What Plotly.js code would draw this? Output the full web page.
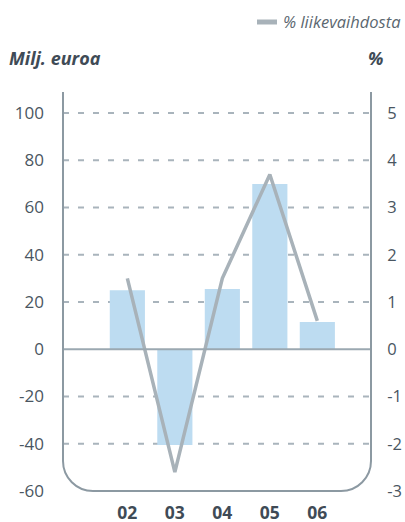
<!DOCTYPE html>
<html>
<head>
<meta charset="utf-8">
<script src="https://cdn.plot.ly/plotly-3.0.1.min.js"></script>
<style>
  html, body { margin: 0; padding: 0; background: #ffffff; }
  #chart { width: 405px; height: 522px; }
</style>
</head>
<body>
<div id="chart"></div>
<script>
// ---- data ----
const years = ["02", "03", "04", "05", "06"];
const profitMeur = [25, -40.5, 25.5, 70, 11.5];      // bars, left axis (Milj. euroa)
const pctOfSales = [1.5, -2.6, 1.5, 3.7, 0.6];       // line, right axis (%)
const leftTickVals = [-60, -40, -20, 0, 20, 40, 60, 80, 100];
const leftTickText = ["-60", "-40", "-20", "0", "20", "40", "60", "80", "100"];
const rightTickVals = [-3, -2, -1, 0, 1, 2, 3, 4, 5];
const rightTickText = ["-3", "-2", "-1", "0", "1", "2", "3", "4", "5"];
const gridVals = [-40, -20, 20, 40, 60, 80, 100];
const leftTitle = "Milj. euroa";
const rightTitle = "%";
const legendLabel = "% liikevaihdosta";

// ---- styles ----
const FONT = "Open Sans, Lato, sans-serif";
const tickColor = "#4a5661";
const axisColor = "#8c99a2";
const gridColor = "#a9b4bc";
const barColor = "#bddcf1";
const lineColor = "#a8b2b9";

const traces = [
  {
    type: "bar", x: years, y: profitMeur, yaxis: "y",
    marker: { color: barColor }, width: 0.74,
    showlegend: false, hoverinfo: "skip"
  },
  {
    type: "scatter", mode: "lines", x: years, y: pctOfSales, yaxis: "y2",
    line: { color: lineColor, width: 3.5 },
    showlegend: false, hoverinfo: "skip", cliponaxis: false
  }
];

const shapes = [];
gridVals.forEach(v => shapes.push({
  type: "line", layer: "below", xref: "paper", yref: "y",
  x0: 0, x1: 1, y0: v, y1: v,
  line: { color: gridColor, width: 2, dash: "6px,9px" }
}));
// zero line
shapes.push({
  type: "line", layer: "above", xref: "paper", yref: "y",
  x0: 0, x1: 1, y0: 0, y1: 0,
  line: { color: "#9ba8b1", width: 2 }
});
// rounded-bottom frame (paper coords; plot area 308 x 399 px, radius ~30 px)
const rx = 30 / 308, ry = 30 / 399, k = 0.448;
shapes.push({
  type: "path", layer: "above", xref: "paper", yref: "paper",
  path: `M 0 1 L 0 ${ry} C 0 ${ry * k} ${rx * k} 0 ${rx} 0 L ${1 - rx} 0 C ${1 - rx * k} 0 1 ${ry * k} 1 ${ry} L 1 1`,
  line: { color: axisColor, width: 2 }
});
// legend marker
shapes.push({
  type: "line", xref: "paper", yref: "paper",
  x0: (257 - 63) / 308, x1: (277 - 63) / 308,
  y0: (491 - 22) / 399, y1: (491 - 22) / 399,
  line: { color: lineColor, width: 5 }
});

const annotations = [
  {
    text: leftTitle, xref: "paper", yref: "paper", x: (7 - 63) / 308, y: (491 - 58) / 399,
    xanchor: "left", yanchor: "middle", showarrow: false,
    font: { family: FONT, size: 18, color: "#3f4b56", weight: 700, style: "italic" }
  },
  {
    text: rightTitle, xref: "paper", yref: "paper", x: (385 - 63) / 308, y: (491 - 58) / 399,
    xanchor: "right", yanchor: "middle", showarrow: false,
    font: { family: FONT, size: 18, color: "#3f4b56", weight: 700, style: "italic" }
  },
  {
    text: legendLabel, xref: "paper", yref: "paper", x: (281 - 63) / 308, y: (491 - 22) / 399,
    xanchor: "left", yanchor: "middle", showarrow: false,
    font: { family: FONT, size: 16.5, color: "#5b6770", style: "italic" }
  }
];

const layout = {
  width: 405, height: 522,
  margin: { l: 63, r: 34, t: 92, b: 31, pad: 0 },
  paper_bgcolor: "#ffffff", plot_bgcolor: "rgba(0,0,0,0)",
  showlegend: false,
  font: { family: FONT, color: tickColor },
  xaxis: {
    type: "category", range: [-1.355, 5.13], fixedrange: true,
    showgrid: false, showline: false, zeroline: false, ticks: "",
    tickfont: { family: FONT, size: 17.5, color: "#3f4b56", weight: 700 },
    ticklabelstandoff: 9
  },
  yaxis: {
    range: [-60, 108.9], tickmode: "array", tickvals: leftTickVals, ticktext: leftTickText,
    showgrid: false, showline: false, zeroline: false, ticks: "",
    tickfont: { family: FONT, size: 17, color: tickColor },
    ticklabelstandoff: 18
  },
  yaxis2: {
    overlaying: "y", side: "right",
    range: [-3, 5.445], tickmode: "array", tickvals: rightTickVals, ticktext: rightTickText,
    showgrid: false, showline: false, zeroline: false,
    ticks: "outside", ticklen: 12, tickcolor: "rgba(0,0,0,0)",
    tickfont: { family: FONT, size: 16.5, color: tickColor }
  },
  shapes: shapes,
  annotations: annotations
};

Plotly.newPlot("chart", traces, layout, { staticPlot: true, displayModeBar: false });
</script>
</body>
</html>
